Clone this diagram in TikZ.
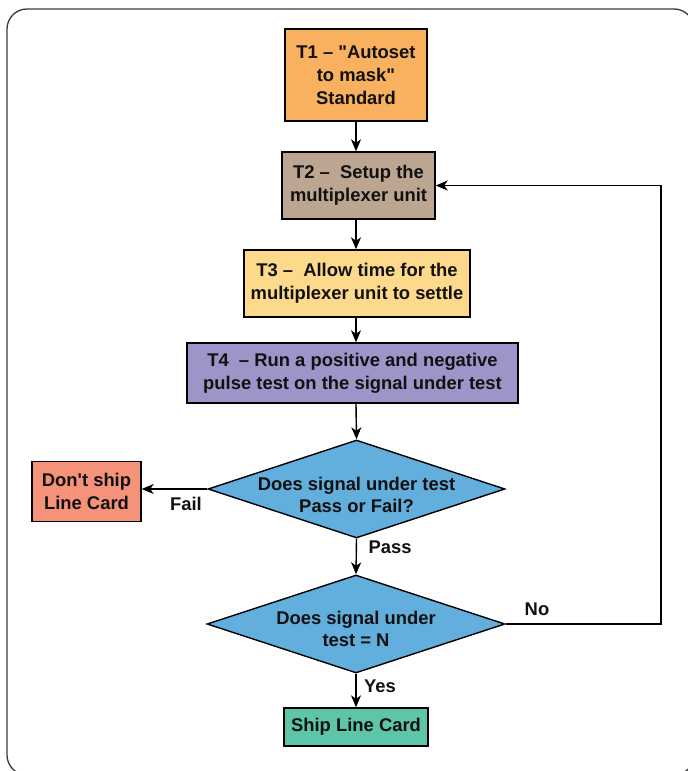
\documentclass[tikz,border=0pt]{standalone}
\usepackage{fontspec}
\setmainfont{Liberation Sans}[Ligatures=TeXOff]
\usetikzlibrary{shapes.geometric,arrows.meta}
\definecolor{cTone}{HTML}{F9B05F}
\definecolor{cTtwo}{HTML}{BCA591}
\definecolor{cTthree}{HTML}{FDD98B}
\definecolor{cTfour}{HTML}{9C96C8}
\definecolor{cDia}{HTML}{62AEDC}
\definecolor{cNo}{HTML}{F5937A}
\definecolor{cShip}{HTML}{5EC5A8}
\definecolor{cTxt}{HTML}{111111}
\definecolor{cFrame}{HTML}{3A3A3A}
\begin{document}
\begin{tikzpicture}[x=1pt,y=-1pt,
  every node/.style={font=\fontsize{18.4}{22.8}\selectfont\bfseries, text=cTxt},
  box/.style={draw=black, line width=1.4pt, rectangle, inner sep=0pt, align=center},
  dia/.style={draw=black, line width=1.4pt, diamond, inner sep=0pt, fill=cDia},
  arr/.style={draw=black, line width=1.4pt, -{Stealth[length=12pt,width=10pt,inset=3.5pt]}},
  lbl/.style={inner sep=0pt}]
\useasboundingbox (0,0) rectangle (688,771);
\draw[cFrame, line width=1.3pt, rounded corners=20pt] (7,9) rectangle (694,775);

\node[box, fill=cTone, minimum width=142pt, minimum height=92pt] (T1) at (356,75)
  {T1 – "Autoset\\to mask"\\Standard};
\node[box, fill=cTtwo, minimum width=153pt, minimum height=67pt] (T2) at (358.5,185.5)
  {T2 –\ \ Setup the\\multiplexer unit};
\node[box, fill=cTthree, minimum width=226pt, minimum height=67pt] (T3) at (357,283.5)
  {T3 –\ \ Allow time for the\\multiplexer unit to settle};
\node[box, fill=cTfour, minimum width=331pt, minimum height=60pt] (T4) at (352.5,373)
  {T4\ \ – Run a positive and negative\\pulse test on the signal under test};
\node[dia, minimum width=297pt, minimum height=98pt,
  label={[align=center, yshift=-6pt]center:Does signal under test\\Pass or Fail?}] (D1) at (356.5,489) {};
\node[box, fill=cNo, minimum width=109pt, minimum height=60pt] (NS) at (86.5,491.5)
  {Don't ship\\Line Card};
\node[dia, minimum width=298pt, minimum height=98pt,
  label={[align=center, yshift=-5pt]center:Does signal under\\test = N}] (D2) at (356,624) {};
\node[box, fill=cShip, minimum width=144pt, minimum height=38pt] (SH) at (356,727)
  {Ship Line Card};

\coordinate (loop) at (661,185.5);

\draw[arr] (T1.south) -- (T1.south |- T2.north);
\draw[arr] (T2.south -| T1.south) -- (T1.south |- T3.north);
\draw[arr] (T3.south -| T1.south) -- (T1.south |- T4.north);
\draw[arr] (T4.south -| T1.south) -- (D1.north);
\draw[arr] (D1.west) -- (NS.east |- D1.west);
\draw[arr] (D1.south) -- (D2.north);
\draw[arr] (D2.south) -- (SH.north);
\draw[arr] (D2.east) -| (loop) -- (T2.east);

\node[lbl] (fail) at (186,503.5) {Fail};
\node[lbl] (pass) at (390,547.5) {Pass};
\node[lbl] (no) at (537,609.5) {No};
\node[lbl] (yes) at (380,686) {Yes};
\end{tikzpicture}
\end{document}
